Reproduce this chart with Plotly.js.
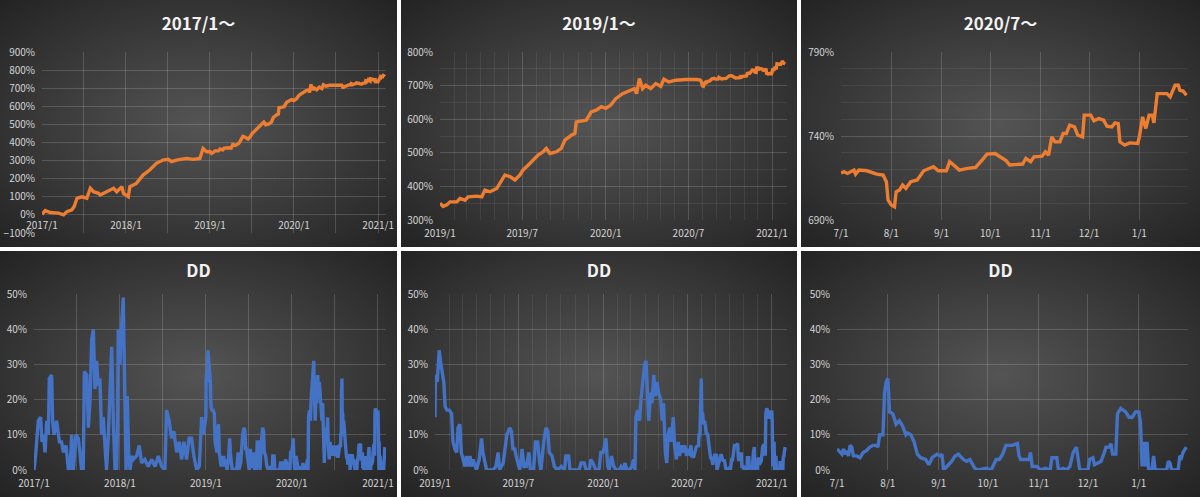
<!DOCTYPE html>
<html><head><meta charset="utf-8">
<script src="https://cdn.plot.ly/plotly-3.0.1.min.js"></script>
<style>
html,body{margin:0;padding:0;background:#ffffff;width:1200px;height:497px;overflow:hidden;}
.panel{position:absolute;background:radial-gradient(ellipse farthest-corner at 50% 50%, #545454 0%, #3c3c3c 50%, #232323 100%);}
</style></head><body>
<div id="p1" class="panel" style="left:0px;top:0px;width:397px;height:247px"></div>
<div id="p2" class="panel" style="left:401px;top:0px;width:396px;height:247px"></div>
<div id="p3" class="panel" style="left:801px;top:0px;width:399px;height:247px"></div>
<div id="p4" class="panel" style="left:0px;top:251px;width:397px;height:246px"></div>
<div id="p5" class="panel" style="left:401px;top:251px;width:396px;height:246px"></div>
<div id="p6" class="panel" style="left:801px;top:251px;width:399px;height:246px"></div>
<script>
// ---- Equity curve (cumulative return, %) ----
const eqDates = [
"2017-01-01","2017-01-15","2017-02-06","2017-03-14","2017-04-05","2017-04-19","2017-05-11","2017-05-21","2017-06-02","2017-06-23",
"2017-07-15","2017-07-30","2017-08-13","2017-09-04","2017-09-11","2017-10-10","2017-11-08","2017-11-22","2017-12-14","2017-12-21",
"2018-01-11","2018-01-18","2018-02-01","2018-02-15","2018-03-16","2018-04-14","2018-05-13","2018-06-11","2018-07-03","2018-07-18",
"2018-08-08","2018-09-21","2018-10-20","2018-11-18","2018-12-02","2018-12-17",
"2019-01-01","2019-01-08","2019-01-16","2019-01-23","2019-02-07","2019-02-14","2019-02-25","2019-03-04","2019-03-23","2019-04-03",
"2019-04-10","2019-04-21","2019-05-06","2019-05-13","2019-05-24","2019-06-04","2019-06-15","2019-06-26","2019-07-03","2019-07-14",
"2019-07-25","2019-08-05","2019-08-16","2019-08-23","2019-08-31","2019-09-14","2019-09-25","2019-10-03","2019-10-17","2019-10-25",
"2019-10-28","2019-11-19","2019-11-30","2019-12-11","2019-12-22","2020-01-01","2020-01-12","2020-01-23","2020-02-07","2020-02-22",
"2020-03-04","2020-03-09","2020-03-15","2020-03-22","2020-03-29","2020-04-09","2020-04-20","2020-05-01","2020-05-08","2020-05-19",
"2020-06-03","2020-06-25",
"2020-07-01","2020-07-03","2020-07-05","2020-07-07","2020-07-09","2020-07-10","2020-07-12","2020-07-17","2020-07-20","2020-07-23",
"2020-07-27","2020-07-29","2020-07-30","2020-08-01","2020-08-03","2020-08-04","2020-08-06","2020-08-08","2020-08-10","2020-08-13",
"2020-08-17","2020-08-21","2020-08-27","2020-08-30","2020-09-04","2020-09-06","2020-09-09","2020-09-12","2020-09-17","2020-09-22",
"2020-09-26","2020-09-29","2020-10-04","2020-10-07","2020-10-11","2020-10-13","2020-10-17","2020-10-21","2020-10-23","2020-10-26",
"2020-10-28","2020-11-02","2020-11-04","2020-11-06","2020-11-08","2020-11-10","2020-11-13","2020-11-15","2020-11-17","2020-11-19",
"2020-11-22","2020-11-24","2020-11-27","2020-11-28","2020-12-02","2020-12-04","2020-12-07","2020-12-10","2020-12-12","2020-12-15",
"2020-12-17","2020-12-19","2020-12-20","2020-12-23","2020-12-26","2020-12-29","2020-12-31","2021-01-01","2021-01-03","2021-01-05",
"2021-01-07","2021-01-09","2021-01-10","2021-01-12","2021-01-18","2021-01-20","2021-01-23","2021-01-25","2021-01-26","2021-01-28",
"2021-01-30"];
const eqValues = [
3,24,13,10,0,18,28,46,92,100,
92,147,128,119,110,128,147,128,156,119,
101,156,165,174,220,248,285,303,307,294,
303,312,307,312,367,349,
350,340,345,354,354,364,359,369,371,369,
389,384,394,409,434,429,419,434,449,463,
478,493,503,513,498,503,513,538,552,557,
592,597,622,627,637,632,642,661,676,686,
691,676,721,691,701,691,706,698,719,711,
716,718,
718.1,718.7,717.7,718.7,719.7,717.3,719.7,719.3,718.1,717.3,
716.7,712.8,701.9,698.9,697.9,706.8,707.8,710.8,708.8,712.8,
713.8,719.3,721.7,719.3,719.3,724.7,722.3,719.7,720.7,721.3,
725.6,729.2,729.6,727.6,725.2,722.7,722.9,723.3,726.6,724.7,
727.6,728.0,730.6,728.6,739.5,736.5,736.5,741.5,741.5,746.4,
745.4,740.5,739.5,752.4,752.4,749.0,750.4,749.4,745.8,745.4,
747.8,747.4,736.5,734.6,735.9,735.5,735.5,739.5,751.4,744.5,
752.4,752.4,747.8,765.2,765.2,763.3,770.2,770.2,767.2,766.8,
764.3];

// ---- Drawdown (%) ----
const ddDates = [
"2017-01-01","2017-01-09","2017-01-19","2017-01-29","2017-02-04","2017-02-10","2017-02-17","2017-02-24","2017-03-03","2017-03-07",
"2017-03-17","2017-03-21","2017-03-27","2017-04-07","2017-04-19","2017-04-28","2017-05-06","2017-05-17","2017-05-27","2017-06-03",
"2017-06-10","2017-06-17","2017-06-28","2017-07-08","2017-07-15","2017-07-22","2017-07-29","2017-08-03","2017-08-13","2017-08-20",
"2017-08-27","2017-09-03","2017-09-10","2017-09-17","2017-09-24","2017-10-01","2017-10-08","2017-10-15","2017-10-22","2017-10-29",
"2017-11-05","2017-11-13","2017-11-20","2017-11-27","2017-12-04","2017-12-11","2017-12-18","2017-12-21","2017-12-25","2018-01-01",
"2018-01-08","2018-01-15","2018-01-22","2018-01-27","2018-02-01","2018-02-07","2018-02-13","2018-02-20","2018-02-27","2018-03-13",
"2018-03-24","2018-04-03","2018-04-17","2018-05-01","2018-05-16","2018-05-30","2018-06-13","2018-06-27","2018-07-11","2018-07-18",
"2018-07-29","2018-08-08","2018-08-18","2018-08-30","2018-09-10","2018-09-20","2018-09-30","2018-10-11","2018-10-22","2018-11-01",
"2018-11-11","2018-11-23","2018-12-04","2018-12-14","2018-12-21",
"2019-01-01","2019-01-02","2019-01-06","2019-01-10","2019-01-14","2019-01-17","2019-01-20","2019-01-23","2019-01-27","2019-02-01",
"2019-02-06","2019-02-09","2019-02-13","2019-02-17","2019-02-20","2019-02-24","2019-02-27","2019-03-03","2019-03-07","2019-03-10",
"2019-03-14","2019-03-18","2019-03-21","2019-03-25","2019-03-28","2019-04-01","2019-04-07","2019-04-12","2019-04-15","2019-04-19",
"2019-04-23","2019-05-07","2019-05-13","2019-05-18","2019-05-21","2019-05-29","2019-06-02","2019-06-06","2019-06-12","2019-06-16",
"2019-06-19","2019-06-23","2019-06-26","2019-06-30","2019-07-04","2019-07-09","2019-07-13","2019-07-18","2019-07-24","2019-07-27",
"2019-08-03","2019-08-07","2019-08-12","2019-08-16","2019-08-19","2019-08-25","2019-08-30","2019-09-03","2019-09-06","2019-09-12",
"2019-09-17","2019-09-24","2019-10-02","2019-10-09","2019-10-12","2019-10-18","2019-10-21","2019-11-10","2019-11-14","2019-11-21",
"2019-11-25","2019-12-02","2019-12-05","2019-12-10","2019-12-16","2019-12-23","2019-12-27","2020-01-01","2020-01-07","2020-01-10",
"2020-01-11","2020-01-14","2020-01-19","2020-01-24","2020-01-29","2020-02-05","2020-02-09","2020-02-15","2020-02-17","2020-02-22",
"2020-02-27","2020-03-03","2020-03-07","2020-03-10","2020-03-12","2020-03-16","2020-03-20","2020-03-23","2020-03-27","2020-03-31",
"2020-04-03","2020-04-06","2020-04-09","2020-04-13","2020-04-16","2020-04-20","2020-04-23","2020-04-27","2020-04-30","2020-05-05",
"2020-05-08","2020-05-11","2020-05-15","2020-05-18","2020-05-21","2020-05-25","2020-05-28","2020-06-01","2020-06-04","2020-06-08",
"2020-06-12","2020-06-15","2020-06-19","2020-06-23","2020-06-26","2020-06-30",
"2020-07-01","2020-07-02","2020-07-04","2020-07-05","2020-07-06","2020-07-07","2020-07-08","2020-07-09","2020-07-10","2020-07-11",
"2020-07-13","2020-07-15","2020-07-17","2020-07-19","2020-07-21","2020-07-23","2020-07-25","2020-07-26","2020-07-27","2020-07-29",
"2020-07-30","2020-07-31","2020-08-01","2020-08-02","2020-08-04","2020-08-06","2020-08-08","2020-08-10","2020-08-12","2020-08-13",
"2020-08-15","2020-08-17","2020-08-19","2020-08-21","2020-08-24","2020-08-26","2020-08-28","2020-08-31","2020-09-02","2020-09-03",
"2020-09-04","2020-09-07","2020-09-09","2020-09-11","2020-09-13","2020-09-16","2020-09-18","2020-09-20","2020-09-21","2020-09-23",
"2020-09-25","2020-09-30","2020-10-03","2020-10-06","2020-10-08","2020-10-10","2020-10-12","2020-10-16","2020-10-19","2020-10-20",
"2020-10-21","2020-10-24","2020-10-26","2020-10-27","2020-10-28","2020-10-31","2020-11-02","2020-11-05","2020-11-08","2020-11-09",
"2020-11-12","2020-11-13","2020-11-16","2020-11-18","2020-11-20","2020-11-22","2020-11-24","2020-11-26","2020-12-01","2020-12-02",
"2020-12-04","2020-12-05","2020-12-07","2020-12-09","2020-12-11","2020-12-12","2020-12-14","2020-12-15","2020-12-16","2020-12-18",
"2020-12-19","2020-12-21","2020-12-24","2020-12-26","2020-12-28","2020-12-30","2021-01-01","2021-01-02","2021-01-03","2021-01-04",
"2021-01-05","2021-01-06","2021-01-07","2021-01-09","2021-01-10","2021-01-11","2021-01-14","2021-01-18","2021-01-19","2021-01-20",
"2021-01-21","2021-01-25","2021-01-26","2021-01-27","2021-01-28","2021-01-30"];
const ddValues = [
0,5,14,15,8,10,5,14,10,26,
27,14,10,14,8,8,5,7,0,0,
10,0,10,9,5,0,0,28,27,12,
20,37,40,23,31,24,26,10,15,7,
0,10,20,35,14,0,0,10,40,30,
41,49,20,0,21,5,0,4,3,4,
7,2,3,1,3,1,4,1,0,17,
14,9,11,5,8,3,8,3,9,9,
4,0,1,15,10,
15,27,25,34,30,27,25,18,17,17,
16,8,6,5,12,13,5,3,1,4,
1,4,1,3,2,0,3,9,5,2,
0,0,1,5,0,2,7,10,12,11,
6,6,4,2,0,6,1,1,5,0,
0,8,8,2,0,8,12,11,5,4,
1,0,1,0,4,4,0,0,2,2,
0,0,3,2,0,0,5,5,9,3,
1,0,4,1,0,0,1,0,2,0,
0,1,3,0,15,17,14,20,25,30,
31,22,14,22,19,27,21,25,22,20,
14,19,5,2,10,12,8,15,7,3,
8,4,7,5,7,4,
6,5.5,4.5,6,4.5,5.5,4,7,6.5,4,
4,3.5,5,5.5,6.5,7,7,6.5,10,10,
22,25,26,16.5,16,13,14,12.5,10,10.5,
10,8,4.5,3.5,3,1.5,3.5,4.5,4,4.5,
0,1.5,2.5,4,4.5,3,2.5,3,2,0.5,
0,0.5,0,3,3,4.5,7,7,7.5,4,
3,3,3,5,1,1,0,0.5,0,3.5,
3.5,0,0.5,0,1,5,6.5,0,0,3,
3.5,1.5,2,2.5,5,6.5,6.5,7.5,4.5,4.5,
16,17.5,16.5,15,15,16.5,16.5,13.5,1,8,
1,8,0,0,4,0,0,0,2.5,2,
0,0,4,3.5,5,6.5];

// ---- Panels ----
const titles = ["2017/1～","2019/1～","2020/7～","DD","DD","DD"];
const startDates = ["2017-01-01","2019-01-01","2020-07-01"];
const endDates = ["2021-02-04","2021-02-03","2021-01-31"];
const eqYRanges = [[-100,900],[300,800],[690,790]];
const eqYDtick = [100,100,50];
const eqYMinor = [null,50,10];
const xMajor = ["M12","M6","M1"];
const xMinor = ["M6","M1",null];
const xFormat = ["%Y/%-m","%Y/%-m","%-m/%-d"];

const ORANGE = "#ED7D31", BLUE = "#4472C4";
const MAJ = "rgba(255,255,255,0.16)", MIN = "rgba(255,255,255,0.07)";
const tickFont = {family:"'Noto Sans CJK JP', 'Noto Sans', sans-serif", size:10, color:"#d4d4d4"};
const titleFont = {family:"'Noto Sans CJK JP', 'Noto Sans', sans-serif", size:17, color:"#f2f2f2", weight:700};

const margins = [
  {l:42,r:11,t:52,b:14},
  {l:39,r:10,t:52,b:27},
  {l:40,r:12,t:52,b:27},
  {l:34,r:11,t:43,b:27},
  {l:34,r:10,t:43,b:27},
  {l:36,r:12,t:43,b:27}
];
const sizes = [[397,247],[396,247],[399,247],[397,246],[396,246],[399,246]];

function subset(dates, vals, start) {
  const x = [], y = [];
  for (let i = 0; i < dates.length; i++) {
    if (dates[i] >= start) { x.push(dates[i]); y.push(vals[i]); }
  }
  return {x, y};
}

for (let p = 0; p < 6; p++) {
  const col = p % 3, isEq = p < 3;
  const d = isEq ? subset(eqDates, eqValues, startDates[col]) : subset(ddDates, ddValues, startDates[col]);
  const yr = isEq ? eqYRanges[col] : [0,50];
  const xaxis = {
    type:"date", range:[startDates[col], endDates[col]], autorange:false,
    tick0:startDates[col], dtick:xMajor[col], tickformat:xFormat[col],
    showgrid:true, gridcolor:MAJ, gridwidth:1, zeroline:false, showline:false, ticks:"",
    tickfont:tickFont, ticklabelstandoff:(isEq && col===0) ? 3 : 6, fixedrange:true
  };
  if (xMinor[col]) xaxis.minor = {dtick:xMinor[col], tick0:startDates[col], showgrid:true, gridcolor: col===0 ? MAJ : MIN, ticks:""};
  if (isEq && col === 0) { xaxis.anchor = "free"; xaxis.position = (0 - yr[0])/(yr[1]-yr[0]); }
  const yaxis = {
    range:yr, autorange:false, dtick: isEq ? eqYDtick[col] : 10, tick0: yr[0],
    ticksuffix:"%", showgrid:true, gridcolor:MAJ, zeroline:false, showline:false, ticks:"",
    tickfont:tickFont, ticklabelstandoff:6, fixedrange:true
  };
  if (isEq && eqYMinor[col]) yaxis.minor = {dtick:eqYMinor[col], tick0: yr[0], showgrid:true, gridcolor:MIN, ticks:""};
  const layout = {
    width:sizes[p][0], height:sizes[p][1], margin:margins[p],
    paper_bgcolor:"rgba(0,0,0,0)", plot_bgcolor:"rgba(0,0,0,0)",
    showlegend:false, hovermode:false,
    title:{text:titles[p], font:titleFont, x:0.5, xref:"container", xanchor:"center",
           y: isEq ? 1 - 24/247 : 1 - 20/246, yref:"container", yanchor:"middle"},
    xaxis:xaxis, yaxis:yaxis
  };
  const trace = {type:"scatter", mode:"lines", x:d.x, y:d.y,
    line:{color: isEq ? ORANGE : BLUE, width: 3.4}, cliponaxis:true};
  Plotly.newPlot("p"+(p+1), [trace], layout, {staticPlot:true, displayModeBar:false});
}
</script>
</body></html>
